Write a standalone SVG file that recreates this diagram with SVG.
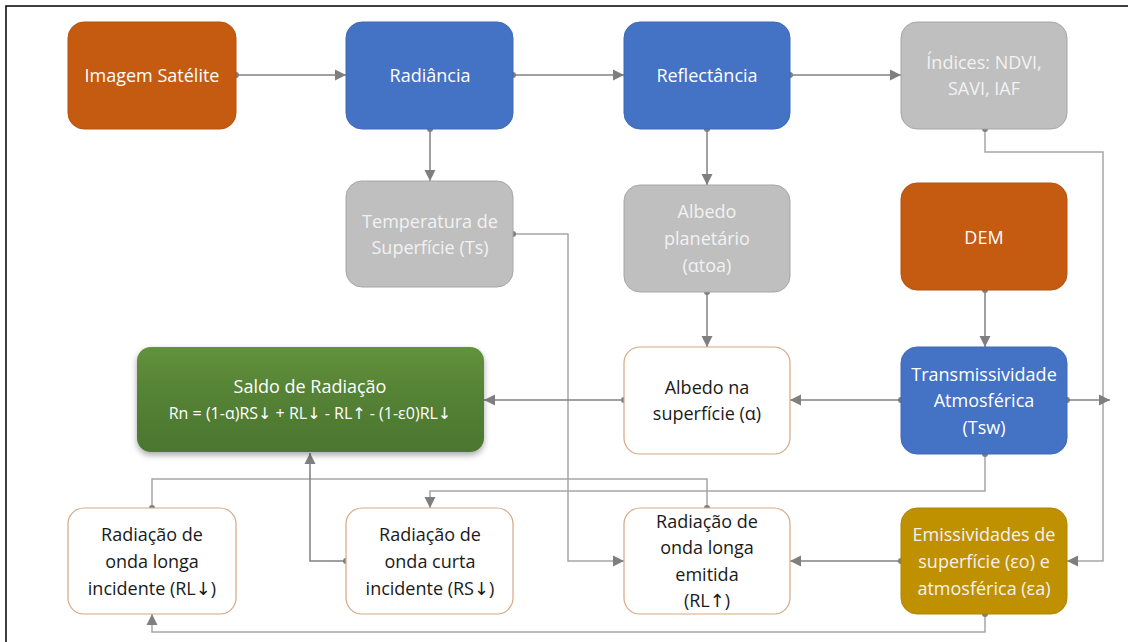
<svg xmlns="http://www.w3.org/2000/svg" width="1134" height="642" viewBox="0 0 1134 642">
<style>
text{font-family:"Open Sans","Noto Sans","Liberation Sans",sans-serif;font-size:18px;text-anchor:middle;dominant-baseline:central}
.ar{font-family:"DejaVu Sans",sans-serif;font-weight:normal}
.w{fill:#ffffff}
.lw{fill:#F2F2F2}
.k{fill:#1a1a1a}
.orange{fill:#C55A11;stroke:#B4520F;stroke-width:1}
.blue{fill:#4472C4;stroke:#3F69B5;stroke-width:1}
.gray{fill:#BFBFBF;stroke:#A6A6A6;stroke-width:1}
.gold{fill:#BF9000;stroke:#B08500;stroke-width:1}
.white{fill:#ffffff;stroke:#D4A985;stroke-width:1.2}
.c{fill:none;stroke:#808080;stroke-width:1.5}
.cl{fill:none;stroke:#A6A6A6;stroke-width:1.5}
.dot{fill:#7F7F7F}
</style>
<defs>
<marker id="ah" markerWidth="12" markerHeight="12" refX="11" refY="6" orient="auto" markerUnits="userSpaceOnUse">
<path d="M0,0.5 L11,6 L0,11.5 Z" fill="#7F7F7F"/>
</marker>
<linearGradient id="green" x1="0" y1="0" x2="0" y2="1">
<stop offset="0" stop-color="#62923B"/>
<stop offset="0.45" stop-color="#548235"/>
<stop offset="1" stop-color="#4C7630"/>
</linearGradient>
<filter id="sh" x="-10%" y="-10%" width="120%" height="130%">
<feDropShadow dx="0" dy="3" stdDeviation="3" flood-color="#000" flood-opacity="0.35"/>
</filter>
</defs>
<rect width="1134" height="642" fill="#ffffff"/>
<path d="M6,642 V6 H1128" fill="none" stroke="#000" stroke-width="1.5"/>

<g id="connectors">
<path class="c" d="M236,75 H346" marker-end="url(#ah)"/>
<path class="c" d="M513,75 H624" marker-end="url(#ah)"/>
<path class="c" d="M790,75 H901" marker-end="url(#ah)"/>
<path class="c" d="M430,129 V181" marker-end="url(#ah)"/>
<path class="c" d="M707,129 V185" marker-end="url(#ah)"/>
<path class="cl" d="M985,129 V152 H1103 V561 H1067" marker-end="url(#ah)"/>
<path class="cl" d="M513,234 H568 V561 H624" marker-end="url(#ah)"/>
<path class="c" d="M707,292 V347" marker-end="url(#ah)"/>
<path class="c" d="M985,290 V347" marker-end="url(#ah)"/>
<path class="c" d="M901,400 H790" marker-end="url(#ah)"/>
<path class="c" d="M624,400 H484" marker-end="url(#ah)"/>
<path class="c" d="M1067,400 H1110" marker-end="url(#ah)"/>
<path class="cl" d="M985,454 V491 H430 V508" marker-end="url(#ah)"/>
<path class="cl" d="M707,508 V479 H152 V508"/>
<path class="c" d="M346,561 H310 V453" marker-end="url(#ah)"/>
<path class="cl" d="M985,614 V632 H152 V614" marker-end="url(#ah)"/>
<path class="c" d="M901,561 H790" marker-end="url(#ah)"/>
<circle class="dot" cx="236" cy="75" r="3"/>
<circle class="dot" cx="513" cy="75" r="3"/>
<circle class="dot" cx="790" cy="75" r="3"/>
<circle class="dot" cx="430" cy="129" r="3"/>
<circle class="dot" cx="707" cy="129" r="3"/>
<circle class="dot" cx="985" cy="129" r="3"/>
<circle class="dot" cx="513" cy="234" r="3"/>
<circle class="dot" cx="707" cy="292" r="3"/>
<circle class="dot" cx="985" cy="290" r="3"/>
<circle class="dot" cx="901" cy="400" r="3"/>
<circle class="dot" cx="624" cy="400" r="3"/>
<circle class="dot" cx="1067" cy="400" r="3"/>
<circle class="dot" cx="985" cy="454" r="3"/>
<circle class="dot" cx="707" cy="508" r="3"/>
<circle class="dot" cx="152" cy="508" r="3"/>
<circle class="dot" cx="346" cy="561" r="3"/>
<circle class="dot" cx="985" cy="614" r="3"/>
<circle class="dot" cx="901" cy="561" r="3"/>
</g>

<g id="imagem">
<rect class="orange" x="68" y="22" width="168" height="107" rx="16"/>
<text class="w" x="152" y="75">Imagem Satélite</text>
</g>
<g id="radiancia">
<rect class="blue" x="346" y="22" width="167" height="107" rx="16"/>
<text class="w" x="430" y="75">Radiância</text>
</g>
<g id="reflectancia">
<rect class="blue" x="624" y="22" width="166" height="107" rx="16"/>
<text class="w" x="707" y="75">Reflectância</text>
</g>
<g id="indices">
<rect class="gray" x="901" y="22" width="166" height="107" rx="16"/>
<text class="lw" x="984" y="62">Índices: NDVI,</text>
<text class="lw" x="984" y="88">SAVI, IAF</text>
</g>
<g id="temperatura">
<rect class="gray" x="346" y="181" width="167" height="106" rx="16"/>
<text class="lw" x="430" y="221">Temperatura de</text>
<text class="lw" x="430" y="247">Superfície (Ts)</text>
</g>
<g id="albedo-planetario">
<rect class="gray" x="624" y="185" width="166" height="107" rx="16"/>
<text class="lw" x="707" y="211">Albedo</text>
<text class="lw" x="707" y="238">planetário</text>
<text class="lw" x="707" y="265">(αtoa)</text>
</g>
<g id="dem">
<rect class="orange" x="901" y="183" width="166" height="107" rx="16"/>
<text class="w" x="984" y="237">DEM</text>
</g>
<g id="saldo">
<rect x="137" y="347" width="347" height="105" rx="14" fill="url(#green)" filter="url(#sh)"/>
<text class="w" x="310" y="386" style="font-size:18px">Saldo de Radiação</text>
<text class="w" x="310" y="413" style="font-size:16px">Rn = (1-α)RS<tspan class="ar">↓</tspan> + RL<tspan class="ar">↓</tspan> - RL<tspan class="ar">↑</tspan> - (1-ε0)RL<tspan class="ar">↓</tspan></text>
</g>
<g id="albedo-superficie">
<rect class="white" x="624" y="347" width="166" height="107" rx="16"/>
<text class="k" x="707" y="387">Albedo na</text>
<text class="k" x="707" y="413">superfície (α)</text>
</g>
<g id="transmissividade">
<rect class="blue" x="901" y="347" width="166" height="107" rx="16"/>
<text class="w" x="984" y="374">Transmissividade</text>
<text class="w" x="984" y="400">Atmosférica</text>
<text class="w" x="984" y="427">(Tsw)</text>
</g>
<g id="rl-incidente">
<rect class="white" x="68" y="508" width="168" height="106" rx="16"/>
<text class="k" x="152" y="534">Radiação de</text>
<text class="k" x="152" y="561">onda longa</text>
<text class="k" x="152" y="588">incidente (RL<tspan class="ar">↓</tspan>)</text>
</g>
<g id="rs-incidente">
<rect class="white" x="346" y="508" width="167" height="106" rx="16"/>
<text class="k" x="430" y="534">Radiação de</text>
<text class="k" x="430" y="561">onda curta</text>
<text class="k" x="430" y="588">incidente (RS<tspan class="ar">↓</tspan>)</text>
</g>
<g id="rl-emitida">
<rect class="white" x="624" y="508" width="166" height="106" rx="16"/>
<text class="k" x="707" y="521">Radiação de</text>
<text class="k" x="707" y="547">onda longa</text>
<text class="k" x="707" y="574">emitida</text>
<text class="k" x="707" y="600">(RL<tspan class="ar">↑</tspan>)</text>
</g>
<g id="emissividades">
<rect class="gold" x="901" y="508" width="166" height="106" rx="16"/>
<text class="lw" x="984" y="534">Emissividades de</text>
<text class="lw" x="984" y="561">superfície (εo) e</text>
<text class="lw" x="984" y="588">atmosférica (εa)</text>
</g>
</svg>
